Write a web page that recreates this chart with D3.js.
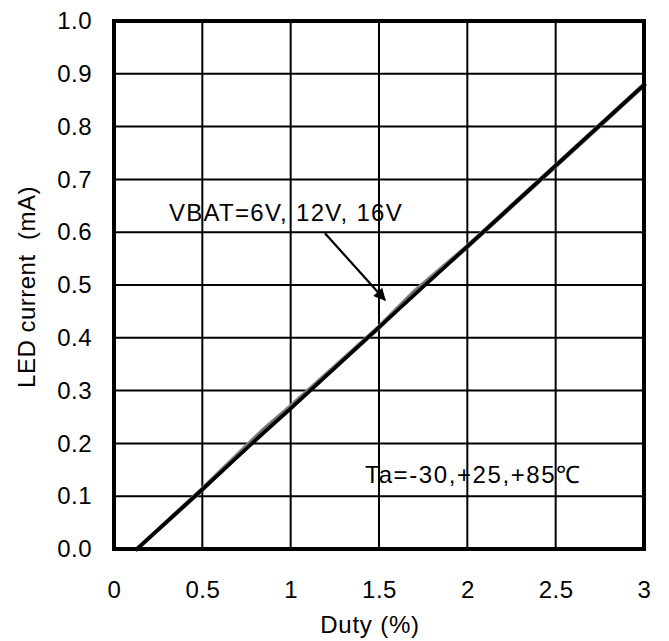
<!DOCTYPE html>
<html>
<head>
<meta charset="utf-8">
<script src="https://cdn.jsdelivr.net/npm/d3@7"></script>
<style>
  html, body { margin: 0; padding: 0; background: #fff; }
  text { font-family: Arial, "Liberation Sans", sans-serif; fill: #000; }
</style>
</head>
<body>
<svg id="chart" width="669" height="641"></svg>
<script>
// ---- data ----
const xTicks = [0, 0.5, 1, 1.5, 2, 2.5, 3];
const xTickLabels = ["0", "0.5", "1", "1.5", "2", "2.5", "3"];
const yTicks = [0, 0.1, 0.2, 0.3, 0.4, 0.5, 0.6, 0.7, 0.8, 0.9, 1.0];
const yTickLabels = ["0.0", "0.1", "0.2", "0.3", "0.4", "0.5", "0.6", "0.7", "0.8", "0.9", "1.0"];

const duty = [0.13, 0.5, 0.85, 1.0, 1.5, 1.7, 2.0, 2.5, 3.0];
const currentMain = [0.0, 0.113, 0.221, 0.266, 0.42, 0.481, 0.573, 0.726, 0.879];
const currentB    = [0.0, 0.114, 0.228, 0.271, 0.421, 0.488, 0.574, 0.727, 0.880];
const currentC    = [0.0, 0.112, 0.225, 0.268, 0.419, 0.485, 0.572, 0.725, 0.878];

const xLabel = "Duty (%)";
const yLabel = "LED current  (mA)";
const noteVbat = "VBAT=6V, 12V, 16V";
const noteTa = "Ta=-30,+25,+85\u2103";

// ---- layout ----
const svg = d3.select("#chart");
const x = d3.scaleLinear().domain([0, 3]).range([114, 644]);
const y = d3.scaleLinear().domain([0, 1]).range([549, 21]);

// grid
svg.append("g").selectAll("line.vg").data(xTicks.slice(1, -1)).enter().append("line")
  .attr("x1", d => x(d)).attr("x2", d => x(d))
  .attr("y1", y(0)).attr("y2", y(1))
  .attr("stroke", "#000").attr("stroke-width", 2);
svg.append("g").selectAll("line.hg").data(yTicks.slice(1, -1)).enter().append("line")
  .attr("x1", x(0)).attr("x2", x(3))
  .attr("y1", d => y(d)).attr("y2", d => y(d))
  .attr("stroke", "#000").attr("stroke-width", 2);

// series
const line = d3.line().x((d, i) => x(duty[i])).y(d => y(d));
[[currentB, "#8a8a8a"], [currentC, "#6a6a6a"], [currentMain, "#000"]].forEach(([s, c]) => {
  svg.append("path").attr("d", line(s))
    .attr("fill", "none").attr("stroke", c).attr("stroke-width", c === "#000" ? 3.6 : 4)
    .attr("stroke-linecap", "square");
});

// border
svg.append("rect")
  .attr("x", x(0)).attr("y", y(1))
  .attr("width", x(3) - x(0)).attr("height", y(0) - y(1))
  .attr("fill", "none").attr("stroke", "#000").attr("stroke-width", 4);

// axes labels
const yAxis = d3.axisLeft(y).tickValues(yTicks).tickSize(0).tickPadding(22)
  .tickFormat((d, i) => yTickLabels[i]);
const gy = svg.append("g").attr("transform", `translate(${x(0)},0)`).call(yAxis);
gy.select(".domain").remove();
gy.selectAll("text").attr("font-size", 24).attr("letter-spacing", 0.5)
  .attr("font-family", "Arial, 'Liberation Sans', sans-serif").attr("fill", "#000");

const xAxis = d3.axisBottom(x).tickValues(xTicks).tickSize(0).tickPadding(32)
  .tickFormat((d, i) => xTickLabels[i]);
const gx = svg.append("g").attr("transform", `translate(0,${y(0)})`).call(xAxis);
gx.select(".domain").remove();
gx.selectAll("text").attr("font-size", 24).attr("letter-spacing", 0.5)
  .attr("font-family", "Arial, 'Liberation Sans', sans-serif").attr("fill", "#000");

svg.append("text").attr("x", 370).attr("y", 633)
  .attr("text-anchor", "middle").attr("font-size", 24).attr("letter-spacing", 0.8)
  .text(xLabel);

svg.append("text")
  .attr("transform", "translate(35,287) rotate(-90)")
  .attr("text-anchor", "middle").attr("font-size", 24).attr("letter-spacing", 0.5)
  .style("white-space", "pre")
  .text(yLabel);

// annotations
svg.append("text").attr("x", x(0.311)).attr("y", y(0.621))
  .attr("font-size", 24).attr("letter-spacing", 1.3).text(noteVbat);
svg.append("text").attr("x", x(1.421)).attr("y", y(0.125))
  .attr("font-size", 24).attr("letter-spacing", 1.6).text(noteTa);

// arrow
svg.append("defs").append("marker")
  .attr("id", "ah").attr("viewBox", "0 0 10 10").attr("refX", 9).attr("refY", 5)
  .attr("markerWidth", 7).attr("markerHeight", 5.5).attr("markerUnits", "strokeWidth")
  .attr("orient", "auto")
  .append("path").attr("d", "M0,0 L10,5 L0,10 Z").attr("fill", "#000");
svg.append("line")
  .attr("x1", x(1.194)).attr("y1", y(0.598))
  .attr("x2", x(1.534)).attr("y2", y(0.4716))
  .attr("stroke", "#000").attr("stroke-width", 2.2)
  .attr("marker-end", "url(#ah)");
</script>
</body>
</html>
